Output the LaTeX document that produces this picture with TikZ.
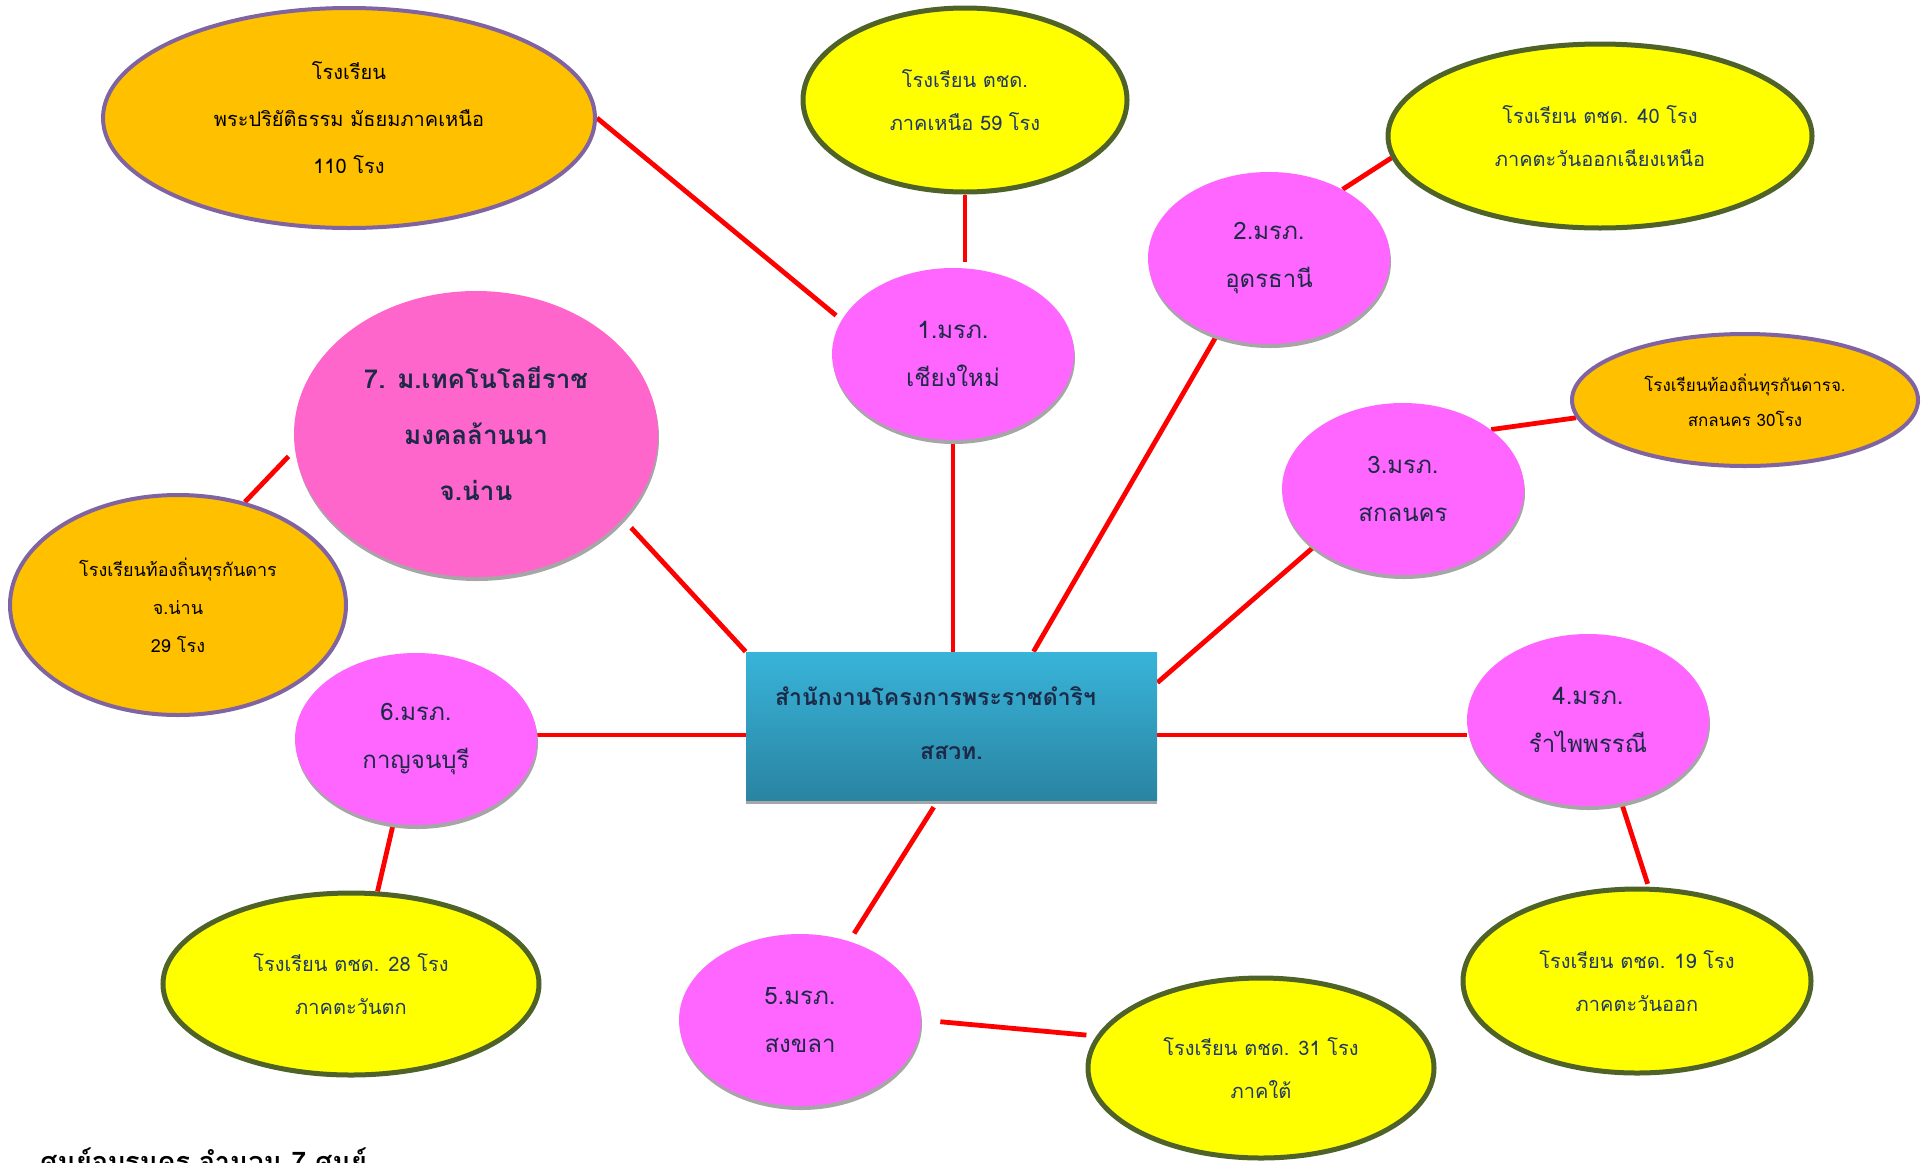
\documentclass[tikz,border=0pt]{standalone}
\usepackage{fontspec}
\newfontfamily\thaifont[Script=Thai]{Loma}
\usetikzlibrary{shapes.geometric,shadows,backgrounds}
\definecolor{orfill}{HTML}{FFC000}
\definecolor{orline}{HTML}{8064A2}
\definecolor{yfill}{HTML}{FFFF00}
\definecolor{yline}{HTML}{4F6228}
\definecolor{pk}{HTML}{FF66FF}
\definecolor{pkseven}{HTML}{FF66CC}
\definecolor{shd}{HTML}{A6A6A6}
\definecolor{navy}{HTML}{1C2A48}
\definecolor{ytext}{HTML}{1F3864}
\definecolor{ctop}{HTML}{38B4D9}
\definecolor{cbot}{HTML}{2A84A2}
\tikzset{
  conn/.style={draw=red, line width=2.4pt},
  pinkel/.style={ellipse, fill=pk, draw=none, inner sep=0pt, minimum width=121pt, minimum height=86pt,
    text=navy, align=center, font=\thaifont\fontsize{12}{24}\selectfont,
    drop shadow={shadow xshift=0.5pt, shadow yshift=-2pt, fill=shd, opacity=1}},
  yelel/.style={ellipse, fill=yfill, draw=yline, line width=2.5pt, inner sep=0pt,
    text=ytext, align=center, font=\thaifont\fontsize{10}{21.5}\selectfont},
  orel/.style={ellipse, fill=orfill, draw=orline, line width=2pt, inner sep=0pt,
    text=black, align=center},
  ctrbox/.style={rectangle, top color=ctop, bottom color=cbot, draw=none, inner sep=0pt,
    minimum width=205.5pt, minimum height=74pt, text=navy, align=center,
    font=\thaifont\bfseries\fontsize{11.5}{27}\selectfont,
    drop shadow={shadow xshift=0pt, shadow yshift=-2pt, fill=shd, opacity=1}}
}
\begin{document}
\begin{tikzpicture}[x=0.5pt,y=-0.5pt]
\useasboundingbox (0,0) rectangle (1926,1162);

% centre
\node[ctrbox] (ctr) at (951.5,726) {\raisebox{3pt}{สำนักงานโครงการพระราชดำริฯ\hspace*{16pt}}\\\raisebox{3pt}{สสวท.}};

% pink centres
\node[pinkel] (p1) at (953,354) {1.มรภ.\\เชียงใหม่};
\node[pinkel] (p2) at (1269,258) {2.มรภ.\\อุดรธานี};
\node[pinkel] (p3) at (1403,489) {3.มรภ.\\สกลนคร};
\node[pinkel] (p4) at (1588,720) {4.มรภ.\\รำไพพรรณี};
\node[pinkel] (p5) at (800,1020) {5.มรภ.\\สงขลา};
\node[pinkel] (p6) at (416,739) {6.มรภ.\\กาญจนบุรี};
\node[pinkel, fill=pkseven, minimum width=182pt, minimum height=143pt,
  font=\thaifont\bfseries\fontsize{13}{28}\selectfont] (p7) at (476,434)
  {7. ม.เทคโนโลยีราช\\มงคลล้านนา\\จ.น่าน};

% yellow
\node[yelel, minimum width=162pt, minimum height=92pt] (yt) at (965,100) {โรงเรียน ตชด.\\ภาคเหนือ 59 โรง};
\node[yelel, minimum width=212pt, minimum height=92pt] (ytr) at (1600,136) {โรงเรียน ตชด. 40 โรง\\ภาคตะวันออกเฉียงเหนือ};
\node[yelel, minimum width=174pt, minimum height=92pt] (ybr) at (1637,981) {โรงเรียน ตชด. 19 โรง\\ภาคตะวันออก};
\node[yelel, minimum width=173pt, minimum height=90pt] (yb) at (1261,1068) {โรงเรียน ตชด. 31 โรง\\ภาคใต้};
\node[yelel, minimum width=188pt, minimum height=91pt] (ybl) at (351,984) {โรงเรียน ตชด. 28 โรง\\ภาคตะวันตก};

% orange
\node[orel, minimum width=246pt, minimum height=110pt, font=\thaifont\fontsize{10}{23.5}\selectfont] (otl) at (349,118)
  {โรงเรียน\\พระปริยัติธรรม มัธยมภาคเหนือ\\110 โรง};
\node[orel, minimum width=173pt, minimum height=66pt, font=\thaifont\fontsize{8.5}{17.5}\selectfont] (orr) at (1745,400)
  {โรงเรียนท้องถิ่นทุรกันดารจ.\\สกลนคร 30โรง};
\node[orel, minimum width=168pt, minimum height=110pt, font=\thaifont\fontsize{9}{19}\selectfont] (orl) at (178,605)
  {โรงเรียนท้องถิ่นทุรกันดาร\\จ.น่าน\\29 โรง};

% footer
\node[anchor=base west, inner sep=0pt, font=\thaifont\bfseries\fontsize{13.5}{15}\selectfont, text=black] (foot) at (40,1171)
  {ศูนย์อบรมครู จำนวน 7 ศูนย์};

\begin{scope}[on background layer]
\draw[conn, shorten >=3.5pt] (otl.east) -- (p1.163);
\draw[conn, shorten >=3pt] (yt.south) -- (yt.south |- p1.north);
\draw[conn, shorten <=2pt] (p1.south) -- (p1.south |- ctr.north);
\draw[conn] (p2.236) -- ([xshift=41pt]ctr.north);
\draw[conn] (ytr.186) -- (p2.43);
\draw[conn] (p3.213) -- ([yshift=-15.5pt]ctr.north east);
\draw[conn] (orr.186) -- (p3.34);
\draw[conn] ([yshift=-4.5pt]ctr.east) -- ([yshift=-4.5pt]ctr.east -| p4.west);
\draw[conn, shorten >=1.5pt] (p4.292) -- (ybr.83);
\draw[conn, shorten <=4pt, shorten >=4.5pt] ([xshift=-6.75pt]ctr.south) -- (p5.58);
\draw[conn, shorten <=9.5pt, shorten >=5pt] (p5.east) -- (yb.169);
\draw[conn] ([yshift=-4.5pt]ctr.west) -- ([yshift=-4.5pt]ctr.west -| p6.east);
\draw[conn] (p6.255) -- (ybl.74.5);
\draw[conn, shorten <=6pt] (p7.330) -- (ctr.north west);
\draw[conn, shorten >=4.5pt] (orl.57) -- (p7.185);
\end{scope}
\end{tikzpicture}
\end{document}
